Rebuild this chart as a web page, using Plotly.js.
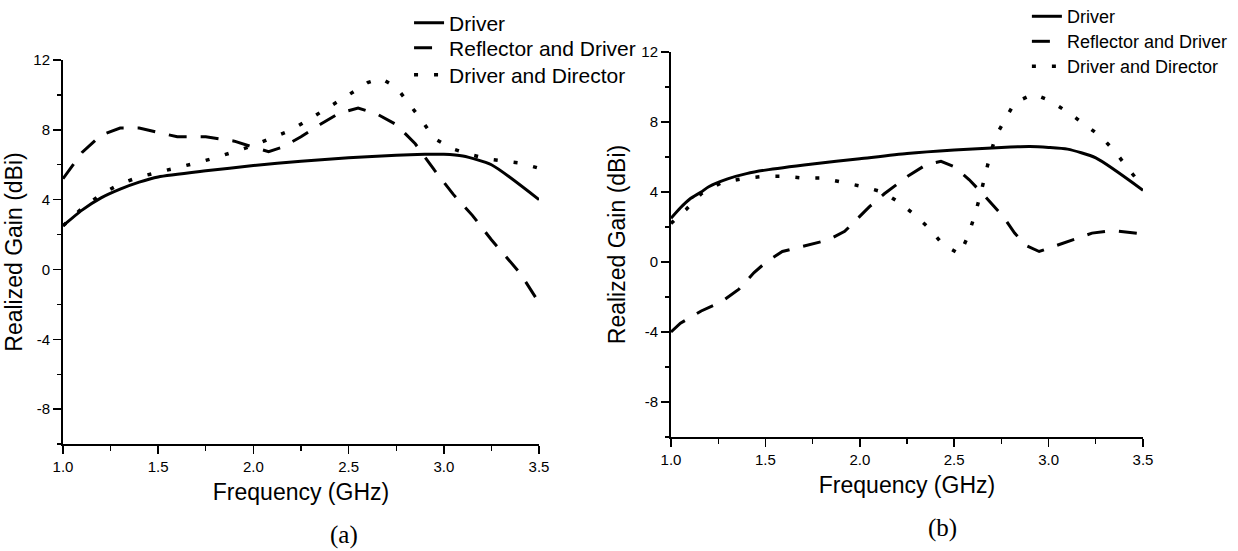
<!DOCTYPE html>
<html>
<head>
<meta charset="utf-8">
<script src="https://cdn.plot.ly/plotly-3.0.1.min.js"></script>
<style>
  html, body { margin: 0; padding: 0; background: #fff; }
  #wrap { position: relative; width: 1238px; height: 551px; overflow: hidden; background: #fff; }
  #pa { position: absolute; left: 0; top: 0; width: 640px; height: 551px; }
  #pb { position: absolute; left: 600px; top: 0; width: 638px; height: 551px; }
</style>
</head>
<body>
<div id="wrap"><div id="pa"></div><div id="pb"></div></div>
<script>
// ---- Data: panel (a) ----
const aDriverX = [1.0, 1.1, 1.2, 1.3, 1.4, 1.5, 1.75, 2.0, 2.25, 2.5, 2.75, 2.9, 3.0, 3.1, 3.25, 3.5];
const aDriverY = [2.5, 3.4, 4.1, 4.6, 5.0, 5.3, 5.65, 5.95, 6.2, 6.4, 6.55, 6.6, 6.6, 6.5, 6.0, 4.0];

const aReflX = [1.0, 1.1, 1.2, 1.3, 1.4, 1.5, 1.6, 1.75, 1.9, 2.0, 2.08, 2.15, 2.25, 2.35, 2.45, 2.55, 2.65, 2.75, 2.85, 2.95, 3.05, 3.15, 3.25, 3.4, 3.5];
const aReflY = [5.2, 6.7, 7.7, 8.1, 8.1, 7.85, 7.6, 7.6, 7.35, 7.0, 6.75, 7.0, 7.6, 8.3, 8.95, 9.25, 8.9, 8.3, 7.2, 5.7, 4.3, 3.1, 1.7, -0.2, -1.9];

const aDirX = [1.0, 1.1, 1.2, 1.3, 1.4, 1.5, 1.6, 1.7, 1.8, 1.9, 2.0, 2.1, 2.2, 2.3, 2.4, 2.5, 2.6, 2.67, 2.75, 2.81, 2.88, 2.95, 3.05, 3.15, 3.25, 3.4, 3.5];
const aDirY = [2.5, 3.5, 4.3, 4.9, 5.3, 5.55, 5.8, 6.1, 6.4, 6.75, 7.1, 7.55, 8.0, 8.65, 9.3, 10.0, 10.7, 10.95, 10.45, 9.6, 8.6, 7.5, 6.9, 6.55, 6.3, 6.1, 5.8];

// ---- Data: panel (b) ----
const bDriverX = [1.0, 1.05, 1.1, 1.16, 1.2, 1.3, 1.4, 1.5, 1.75, 2.0, 2.25, 2.5, 2.75, 2.9, 3.0, 3.1, 3.25, 3.5];
const bDriverY = [2.5, 3.1, 3.6, 4.0, 4.3, 4.75, 5.05, 5.25, 5.6, 5.9, 6.2, 6.4, 6.55, 6.6, 6.55, 6.45, 5.95, 4.1];

const bReflX = [1.0, 1.05, 1.16, 1.27, 1.36, 1.44, 1.51, 1.59, 1.7, 1.83, 1.92, 1.98, 2.05, 2.13, 2.26, 2.35, 2.43, 2.5, 2.58, 2.65, 2.76, 2.82, 2.88, 2.95, 3.03, 3.12, 3.23, 3.34, 3.42, 3.5];
const bReflY = [-4.0, -3.5, -2.8, -2.25, -1.55, -0.6, 0.05, 0.6, 0.9, 1.25, 1.75, 2.4, 3.15, 3.9, 4.95, 5.55, 5.75, 5.45, 4.7, 3.9, 2.6, 1.65, 0.95, 0.6, 0.9, 1.25, 1.65, 1.8, 1.7, 1.6];

const bDirX = [1.0, 1.08, 1.16, 1.27, 1.4, 1.5, 1.6, 1.7, 1.8, 1.92, 2.02, 2.12, 2.21, 2.29, 2.37, 2.44, 2.53, 2.57, 2.61, 2.64, 2.69, 2.72, 2.77, 2.82, 2.92, 3.01, 3.11, 3.2, 3.28, 3.36, 3.42, 3.5];
const bDirY = [2.2, 3.0, 3.9, 4.55, 4.8, 4.9, 4.9, 4.8, 4.8, 4.55, 4.3, 4.0, 3.4, 2.7, 1.9, 1.0, 0.45, 1.4, 2.7, 3.9, 6.1, 7.2, 8.2, 9.1, 9.6, 9.2, 8.5, 7.8, 7.15, 6.2, 5.35, 4.3];

const seriesNames = ["Driver", "Reflector and Driver", "Driver and Director"];
const xTickVals = [1.0, 1.5, 2.0, 2.5, 3.0, 3.5];
const xTickText = ["1.0", "1.5", "2.0", "2.5", "3.0", "3.5"];
const yTickVals = [-8, -4, 0, 4, 8, 12];
const yTickText = ["-8", "-4", "0", "4", "8", "12"];

const FONT = "Liberation Sans, Arial, sans-serif";
const styles = [
  {color: "#000", width: 3, dash: "solid", shape: "spline", smoothing: 0.6},
  {color: "#000", width: 3, dash: "18px,14px", shape: "linear"},
  {color: "#000", width: 3.5, dash: "4px,16px", shape: "linear"}
];
const legendIds = ["legend", "legend2", "legend3"];

function traces(xs, ys) {
  return xs.map((x, i) => ({
    x: x, y: ys[i], name: seriesNames[i], type: "scatter", mode: "lines",
    legend: legendIds[i],
    line: styles[i]
  }));
}

function axes(yStandoff) {
  return {
    xaxis: {
      range: [1.0, 3.5], tickmode: "array", tickvals: xTickVals, ticktext: xTickText,
      showline: true, linecolor: "#000", linewidth: 2, ticks: "outside",
      ticklen: 8, tickwidth: 1.5, tickcolor: "#000", showgrid: false, zeroline: false,
      minor: {dtick: 0.25, tick0: 1.0, ticks: "outside", ticklen: 4.5, tickwidth: 1.3, tickcolor: "#000", showgrid: false},
      tickfont: {family: FONT, size: 15, color: "#000"},
      title: {text: "Frequency (GHz)", font: {family: FONT, size: 23, color: "#000"}, standoff: 10},
      automargin: false, fixedrange: true
    },
    yaxis: {
      range: [-10, 12], tickmode: "array", tickvals: yTickVals, ticktext: yTickText,
      showline: true, linecolor: "#000", linewidth: 2, ticks: "outside",
      ticklen: 8, tickwidth: 1.5, tickcolor: "#000", showgrid: false, zeroline: false,
      minor: {dtick: 2, tick0: 0, ticks: "outside", ticklen: 4.5, tickwidth: 1.3, tickcolor: "#000", showgrid: false},
      tickfont: {family: FONT, size: 15, color: "#000"},
      title: {text: "Realized Gain (dBi)", font: {family: FONT, size: 23, color: "#000"}, standoff: yStandoff},
      automargin: false, fixedrange: true
    }
  };
}

function legendAt(x, y, size) {
  return {x: x, y: y, xanchor: "left", yanchor: "middle", font: {family: FONT, size: size, color: "#000"},
    bgcolor: "rgba(0,0,0,0)", borderwidth: 0, itemwidth: 30};
}

// Panel (a): plot area x 63..539, y 60..444
const layoutA = Object.assign({
  width: 640, height: 551,
  margin: {l: 63, r: 101, t: 60, b: 107, autoexpand: false},
  paper_bgcolor: "rgba(0,0,0,0)", plot_bgcolor: "rgba(0,0,0,0)",
  showlegend: true,
  legend: legendAt(0.727, 1.096, 21),
  legend2: legendAt(0.727, 1.031, 21),
  legend3: legendAt(0.727, 0.961, 21),
  annotations: [{text: "(a)", xref: "paper", yref: "paper", x: 0.59, y: -0.237, xanchor: "center", yanchor: "middle", showarrow: false,
    font: {family: "Liberation Serif, Times New Roman, serif", size: 25, color: "#000"}}]
}, axes(4));

// Panel (b): plot area x 671..1143, y 52..437 (div starts at x=600)
const layoutB = Object.assign({
  width: 638, height: 551,
  margin: {l: 71, r: 95, t: 52, b: 114, autoexpand: false},
  paper_bgcolor: "rgba(0,0,0,0)", plot_bgcolor: "rgba(0,0,0,0)",
  showlegend: true,
  legend: legendAt(0.754, 1.092, 18),
  legend2: legendAt(0.754, 1.027, 18),
  legend3: legendAt(0.754, 0.962, 18),
  annotations: [{text: "(b)", xref: "paper", yref: "paper", x: 0.576, y: -0.236, xanchor: "center", yanchor: "middle", showarrow: false,
    font: {family: "Liberation Serif, Times New Roman, serif", size: 25, color: "#000"}}]
}, axes(9));

const config = {staticPlot: true, displayModeBar: false};
Plotly.newPlot("pa", traces([aDriverX, aReflX, aDirX], [aDriverY, aReflY, aDirY]), layoutA, config);
Plotly.newPlot("pb", traces([bDriverX, bReflX, bDirX], [bDriverY, bReflY, bDirY]), layoutB, config);
</script>
</body>
</html>
